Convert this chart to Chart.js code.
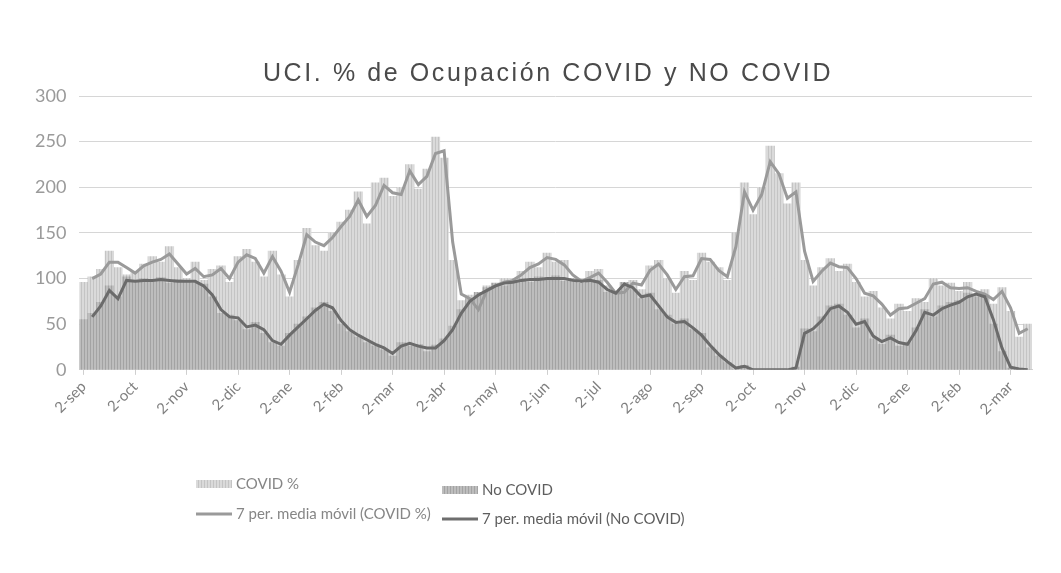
<!DOCTYPE html>
<html>
<head>
<meta charset="utf-8">
<script src="https://cdn.jsdelivr.net/npm/chart.js@4.4.1/dist/chart.umd.min.js"></script>
<style>
  html, body { margin: 0; padding: 0; background: #fff; }
  canvas { display: block; }
</style>
</head>
<body>
<canvas id="myChart" width="1061" height="573"></canvas>
<script>
const ctx = document.getElementById('myChart');

const titleText = 'UCI. % de Ocupación COVID y NO COVID';

// month of each tick, and the days sampled inside every month
const months = ['sep','oct','nov','dic','ene','feb','mar','abr','may','jun','jul','ago',
                'sep','oct','nov','dic','ene','feb','mar'];
const days = [2, 7, 12, 17, 22, 27];
const lastMonthDays = [2, 7, 12];

const labels = [];
months.forEach((m, i) => {
  const d = (i === months.length - 1) ? lastMonthDays : days;
  d.forEach(day => labels.push(day + '-' + m));
});

const seriesNames = ['COVID %', 'No COVID', '7 per. media móvil (COVID %)', '7 per. media móvil (No COVID)'];

// daily bars (one every ~5 days)
const covidPct = [
  96, 102, 110, 130, 112, 104,     // sep
  108, 116, 124, 118, 135, 112,    // oct
  100, 118, 98, 110, 114, 96,      // nov
  124, 132, 118, 102, 130, 104,    // dic
  80, 120, 155, 136, 130, 150,     // ene
  162, 175, 195, 160, 205, 210,    // feb
  190, 200, 225, 198, 220, 255,    // mar
  232, 120, 76, 82, 60, 92,        // abr
  88, 100, 95, 108, 118, 112,      // may
  128, 118, 120, 100, 92, 108,     // jun
  110, 92, 80, 90, 98, 88,         // jul
  114, 120, 100, 84, 108, 98,      // ago
  128, 118, 112, 98, 150, 205,     // sep
  170, 200, 245, 215, 182, 205,    // oct
  120, 92, 112, 122, 108, 116,     // nov
  96, 80, 86, 68, 56, 72,          // dic
  64, 78, 74, 100, 92, 95,         // ene
  86, 96, 82, 88, 72, 90,          // feb
  64, 36, 50                       // mar
];

const noCovid = [
  55, 62, 74, 92, 80, 102,
  96, 100, 97, 101, 95, 99,
  98, 95, 94, 80, 62, 60,
  54, 44, 52, 40, 30, 26,
  40, 50, 58, 68, 74, 64,
  50, 42, 36, 30, 26, 22,
  15, 30, 26, 28, 20, 27,
  34, 48, 66, 78, 85, 90,
  95, 92, 98, 100, 96, 102,
  98, 103, 97, 100, 95, 99,
  98, 85, 86, 96, 88, 78,
  84, 66, 60, 50, 56, 44,
  40, 24, 15, 8, 0, 5,
  0, 0, 0, 0, 0, 3,
  45, 42, 58, 70, 72, 60,
  46, 56, 34, 28, 38, 26,
  30, 46, 66, 58, 70, 74,
  76, 84, 80, 82, 50, 20,
  2, 0, 0
];

// 7 period moving averages
const covidMA = [
  null, 100, 105, 118, 118, 112,
  106, 114, 118, 121, 127, 116,
  105, 111, 102, 104, 111, 100,
  118, 126, 122, 106, 124, 108,
  85, 115, 148, 140, 136, 145,
  157, 168, 186, 168, 180, 202,
  194, 192, 218, 203, 212, 237,
  240, 140, 83, 78, 66, 87,
  92, 96, 98, 104, 112, 116,
  123, 121, 115, 104, 97, 101,
  106, 96, 84, 85, 95, 93,
  109, 116, 104, 88, 102, 103,
  122, 121, 109, 102, 135, 195,
  175, 192, 228, 215, 188, 195,
  130, 97, 108, 117, 113, 112,
  100, 84, 81, 72, 60, 67,
  68, 73, 78, 94, 96, 90,
  89, 90, 86, 83, 77, 86,
  68, 40, 45
];

const noCovidMA = [
  null, 58, 70, 87, 78, 98,
  97, 98, 98, 99, 98, 97,
  97, 97, 92, 82, 66, 58,
  57, 47, 49, 44, 32, 28,
  38, 47, 56, 65, 72, 68,
  54, 44, 38, 33, 28, 24,
  18, 26, 29, 26, 24, 24,
  32, 44, 62, 75, 82, 87,
  92, 95, 96, 98, 99, 99,
  100, 100, 100, 98, 97, 98,
  96, 88, 84, 94, 90, 80,
  82, 70, 58, 52, 53, 46,
  38, 27, 17, 9, 2, 4,
  0, 0, 0, 0, 0, 2,
  40, 45, 54, 67, 70, 63,
  50, 53, 37, 31, 35, 30,
  28, 43, 63, 60, 67, 71,
  74, 80, 83, 80, 55, 24,
  3, 1, 0
];

const yTicks = [0, 50, 100, 150, 200, 250, 300];

// striped fills, like the scanned bars
function stripes(base, line) {
  const c = document.createElement('canvas');
  c.width = 3; c.height = 4;
  const g = c.getContext('2d');
  g.fillStyle = base; g.fillRect(0, 0, 3, 4);
  g.fillStyle = line; g.fillRect(0, 0, 1, 4);
  return g.createPattern(c, 'repeat');
}
const covidFill = stripes('#dadada', '#c4c4c4');
const noCovidFill = stripes('#bdbdbd', '#a3a3a3');

// spaced-out title + two column legend under the axis
const titleAndLegend = {
  id: 'titleAndLegend',
  afterDraw(chart) {
    const g = chart.ctx;
    g.save();
    g.font = '25px "Liberation Sans"';
    g.letterSpacing = '2.6px';
    g.textAlign = 'center';
    g.textBaseline = 'middle';
    g.fillStyle = '#4a4a4a';
    g.fillText(titleText, 548, 74);
    g.restore();

    const spots = [
      {x: 196, y: 484, kind: 'box', fill: covidFill, color: '#868686'},
      {x: 442, y: 490, kind: 'box', fill: noCovidFill, color: '#5e5e5e'},
      {x: 196, y: 514, kind: 'line', fill: '#9a9a9a', color: '#868686'},
      {x: 442, y: 519, kind: 'line', fill: '#6e6e6e', color: '#5e5e5e'}
    ];
    g.save();
    g.font = '15px Lato';
    g.textBaseline = 'middle';
    spots.forEach((s, i) => {
      if (s.kind === 'box') {
        g.fillStyle = s.fill;
        g.fillRect(s.x, s.y - 4, 36, 8);
      } else {
        g.strokeStyle = s.fill;
        g.lineWidth = 3;
        g.beginPath();
        g.moveTo(s.x, s.y);
        g.lineTo(s.x + 36, s.y);
        g.stroke();
      }
      g.fillStyle = s.color;
      g.fillText(seriesNames[i], s.x + 40, s.y);
    });
    g.restore();
  }
};

const data = {
  labels: labels,
  datasets: [
    {
      type: 'bar',
      label: seriesNames[0],
      data: covidPct,
      backgroundColor: covidFill,
      borderWidth: 0,
      grouped: false,
      barPercentage: 1,
      categoryPercentage: 1,
      order: 3
    },
    {
      type: 'bar',
      label: seriesNames[1],
      data: noCovid,
      backgroundColor: noCovidFill,
      borderWidth: 0,
      grouped: false,
      barPercentage: 1,
      categoryPercentage: 1,
      order: 2
    },
    {
      type: 'line',
      label: seriesNames[2],
      data: covidMA,
      borderColor: '#9a9a9a',
      borderWidth: 3,
      pointRadius: 0,
      tension: 0,
      order: 1
    },
    {
      type: 'line',
      label: seriesNames[3],
      data: noCovidMA,
      borderColor: '#6b6b6b',
      borderWidth: 3,
      pointRadius: 0,
      tension: 0,
      order: 0
    }
  ]
};

const config = {
  type: 'bar',
  data: data,
  plugins: [titleAndLegend],
  options: {
    responsive: false,
    animation: false,
    layout: {
      padding: {top: 96, left: 22, right: 29, bottom: 150}
    },
    scales: {
      x: {
        grid: {
          display: true,
          drawOnChartArea: false,
          offset: false,
          tickLength: 5,
          color: c => (labels[c.index] || '').startsWith('2-') ? '#cfcfcf' : 'rgba(0,0,0,0)'
        },
        border: {color: '#d0d0d0'},
        ticks: {
          autoSkip: false,
          minRotation: 45,
          maxRotation: 45,
          color: '#7f7f7f',
          font: {family: 'Lato', size: 15},
          callback: (v, i) => labels[i].startsWith('2-') ? labels[i] : ''
        }
      },
      y: {
        min: 0,
        max: 300,
        afterBuildTicks: axis => { axis.ticks = yTicks.map(v => ({value: v})); },
        grid: {color: '#d6d6d6', drawTicks: false},
        border: {display: false},
        ticks: {
          padding: 13,
          color: '#9a9a9a',
          font: {family: 'Lato', size: 18}
        }
      }
    },
    plugins: {
      legend: {display: false},
      tooltip: {enabled: false},
      title: {display: false}
    }
  }
};

const myChart = new Chart(ctx, config);
</script>
</body>
</html>
